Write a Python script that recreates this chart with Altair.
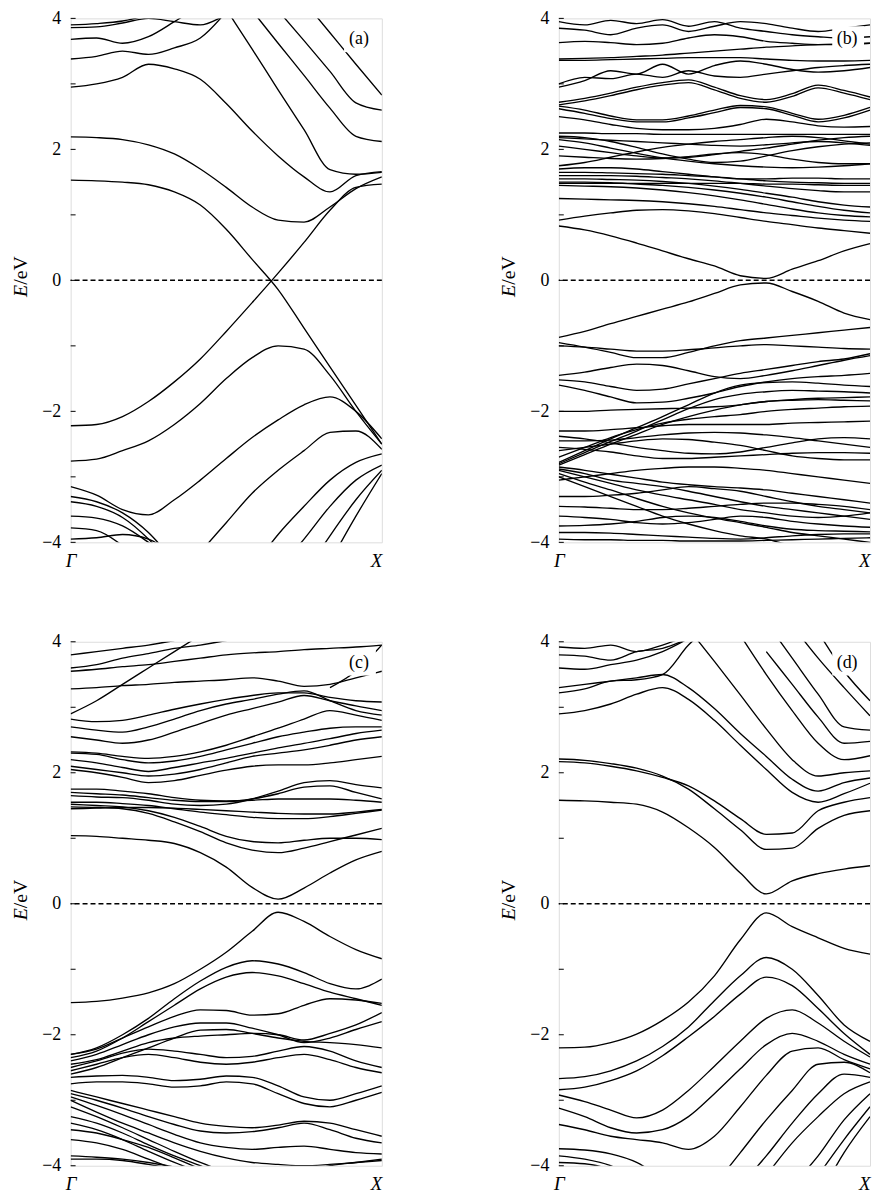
import altair as alt
import pandas as pd

# k positions along Γ–X (fraction of the path)
K = [0, 0.0833, 0.1667, 0.25, 0.3333, 0.4167, 0.5, 0.5833, 0.6667, 0.75, 0.8333, 0.9167, 1]
N = None

BANDS_A = [
    [1.53, 1.52, 1.50, 1.46, 1.35, 1.15, 0.78, 0.32, -0.14, -0.73, -1.32, -1.91, -2.50],
    [-2.22, -2.20, -2.08, -1.85, -1.55, -1.20, -0.78, -0.34, 0.11, 0.58, 1.07, 1.42, 1.47],
    [2.19, 2.18, 2.15, 2.07, 1.93, 1.70, 1.42, 1.12, 0.92, 0.89, 1.12, 1.40, 1.58],
    [2.95, 3.00, 3.10, 3.30, 3.23, 3.07, 2.70, 2.28, 1.90, 1.58, 1.35, 1.60, 1.66],
    [3.38, 3.42, 3.50, 3.45, 3.55, 3.70, 4.10],
    [3.68, 3.70, 3.62, 3.72, 3.95, 4.20],
    [3.86, 3.87, 3.93, 4.00, 3.95, 3.90, 4.05, 4.20],
    [3.90, 3.92, 3.96, 4.05],
    [N, N, N, N, N, 4.75, 4.14, 3.53, 2.91, 2.30, 1.69, 1.62, 1.65],
    [N, N, N, N, N, N, 4.62, 4.12, 3.62, 3.13, 2.63, 2.20, 2.12],
    [N, N, N, N, N, N, N, N, 4.12, 3.66, 3.19, 2.71, 2.60],
    [N, N, N, N, N, N, N, N, N, 4.26, 3.78, 3.30, 2.83],
    [-2.76, -2.73, -2.60, -2.45, -2.20, -1.88, -1.50, -1.18, -1.00, -1.05, -1.45, -2.00, -2.50],
    [-3.15, -3.28, -3.50, -3.58, -3.35, -3.05, -2.72, -2.40, -2.13, -1.90, -1.78, -2.00, -2.42],
    [N, N, N, N, -4.60, -4.15, -3.70, -3.25, -2.90, -2.60, -2.32, -2.30, -2.58],
    [N, N, N, N, N, N, N, -4.40, -3.88, -3.45, -3.05, -2.78, -2.65],
    [N, N, N, N, N, N, N, N, -4.40, -3.95, -3.45, -3.05, -2.82],
    [N, N, N, N, N, N, N, N, N, -4.50, -3.90, -3.35, -2.90],
    [N, N, N, N, N, N, N, N, N, N, -4.30, -3.60, -2.95],
    [-3.30, -3.38, -3.55, -3.85, -4.30],
    [-3.38, -3.45, -3.62, -3.95, -4.40],
    [-3.60, -3.63, -3.75, -4.00, -4.30],
    [-3.78, -3.82, -4.05, -4.40],
    [-3.95, -3.93, -3.88, -3.95, -4.20],
]

BANDS_B = [
    [0.83, 0.77, 0.68, 0.57, 0.45, 0.33, 0.22, 0.07, 0.03, 0.17, 0.30, 0.45, 0.56],
    [-0.87, -0.78, -0.66, -0.55, -0.44, -0.33, -0.20, -0.07, -0.04, -0.17, -0.32, -0.50, -0.60],
    [0.92, 0.98, 1.03, 1.07, 1.08, 1.06, 1.02, 0.96, 0.90, 0.85, 0.80, 0.76, 0.72],
    [-0.95, -1.02, -1.10, -1.18, -1.18, -1.10, -1.00, -0.92, -0.88, -0.84, -0.80, -0.76, -0.72],
    [-1.00, -1.02, -1.05, -1.08, -1.08, -1.06, -1.03, -1.00, -0.98, -1.00, -1.02, -1.04, -1.05],
    [-1.45, -1.40, -1.33, -1.28, -1.30, -1.38, -1.47, -1.50, -1.45, -1.38, -1.30, -1.22, -1.15],
    [-1.52, -1.55, -1.62, -1.68, -1.66, -1.58, -1.50, -1.42, -1.36, -1.30, -1.24, -1.20, -1.12],
    [-1.60, -1.68, -1.78, -1.87, -1.86, -1.80, -1.72, -1.62, -1.55, -1.50, -1.47, -1.45, -1.42],
    [-2.00, -2.00, -1.98, -1.97, -1.96, -1.95, -1.93, -1.90, -1.85, -1.82, -1.80, -1.79, -1.78],
    [-2.78, -2.60, -2.42, -2.25, -2.08, -1.90, -1.72, -1.60, -1.56, -1.55, -1.57, -1.60, -1.62],
    [-2.80, -2.63, -2.46, -2.30, -2.13, -1.96, -1.82, -1.74, -1.70, -1.68, -1.69, -1.70, -1.72],
    [-2.82, -2.66, -2.50, -2.35, -2.20, -2.08, -1.98, -1.90, -1.85, -1.83, -1.82, -1.83, -1.84],
    [-2.70, -2.55, -2.40, -2.28, -2.18, -2.12, -2.08, -2.05, -2.00, -1.97, -1.95, -1.93, -1.92],
    [-2.30, -2.30, -2.28, -2.25, -2.22, -2.20, -2.20, -2.20, -2.20, -2.18, -2.17, -2.16, -2.15],
    [-2.38, -2.42, -2.48, -2.55, -2.60, -2.64, -2.65, -2.62, -2.55, -2.48, -2.42, -2.40, -2.42],
    [-2.45, -2.45, -2.44, -2.40, -2.36, -2.33, -2.32, -2.33, -2.36, -2.40, -2.45, -2.50, -2.55],
    [-2.55, -2.58, -2.62, -2.68, -2.72, -2.72, -2.70, -2.68, -2.66, -2.64, -2.63, -2.63, -2.64],
    [-2.60, -2.55, -2.50, -2.45, -2.42, -2.43, -2.47, -2.52, -2.60, -2.68, -2.72, -2.74, -2.74],
    [-2.85, -2.90, -2.96, -3.02, -3.08, -3.12, -3.15, -3.17, -3.20, -3.25, -3.30, -3.35, -3.40],
    [-2.90, -3.00, -3.10, -3.20, -3.28, -3.35, -3.42, -3.50, -3.55, -3.60, -3.62, -3.60, -3.55],
    [-2.95, -3.08, -3.20, -3.33, -3.45, -3.55, -3.63, -3.70, -3.77, -3.85, -3.90, -3.95, -4.00],
    [-3.00, -3.15, -3.30, -3.45, -3.60, -3.72, -3.82, -3.90, -3.95, -4.05, -4.10, -4.15, -4.20],
    [-2.88, -2.95, -3.05, -3.10, -3.15, -3.22, -3.30, -3.38, -3.45, -3.50, -3.55, -3.60, -3.65],
    [-3.05, -3.00, -2.95, -2.90, -2.87, -2.85, -2.85, -2.87, -2.90, -2.95, -3.00, -3.05, -3.10],
    [-3.30, -3.30, -3.28, -3.25, -3.20, -3.15, -3.18, -3.22, -3.30, -3.38, -3.45, -3.50, -3.55],
    [-3.45, -3.46, -3.48, -3.50, -3.50, -3.48, -3.45, -3.42, -3.40, -3.40, -3.42, -3.45, -3.50],
    [-3.60, -3.62, -3.65, -3.70, -3.72, -3.70, -3.65, -3.60, -3.62, -3.68, -3.72, -3.75, -3.77],
    [-3.75, -3.74, -3.72, -3.68, -3.62, -3.60, -3.62, -3.68, -3.75, -3.80, -3.82, -3.83, -3.84],
    [-3.85, -3.85, -3.86, -3.88, -3.90, -3.92, -3.94, -3.95, -3.93, -3.90, -3.88, -3.87, -3.87],
    [-3.95, -3.96, -3.96, -3.97, -3.97, -3.98, -3.98, -3.98, -3.97, -3.96, -3.95, -3.94, -3.93],
    [1.25, 1.24, 1.23, 1.22, 1.20, 1.17, 1.13, 1.08, 1.03, 0.99, 0.95, 0.92, 0.90],
    [1.45, 1.44, 1.43, 1.41, 1.38, 1.34, 1.29, 1.23, 1.16, 1.09, 1.03, 0.99, 0.97],
    [1.50, 1.50, 1.49, 1.47, 1.45, 1.42, 1.38, 1.33, 1.27, 1.20, 1.13, 1.07, 1.03],
    [1.55, 1.55, 1.54, 1.53, 1.51, 1.48, 1.44, 1.39, 1.33, 1.27, 1.20, 1.15, 1.12],
    [1.60, 1.60, 1.60, 1.59, 1.57, 1.55, 1.52, 1.48, 1.44, 1.40, 1.37, 1.35, 1.35],
    [1.65, 1.65, 1.64, 1.63, 1.62, 1.60, 1.58, 1.55, 1.52, 1.50, 1.49, 1.48, 1.48],
    [1.70, 1.72, 1.72, 1.70, 1.66, 1.62, 1.58, 1.55, 1.55, 1.56, 1.56, 1.55, 1.55],
    [1.48, 1.48, 1.48, 1.48, 1.48, 1.48, 1.48, 1.48, 1.47, 1.47, 1.46, 1.45, 1.45],
    [2.20, 2.18, 2.12, 2.03, 1.93, 1.85, 1.80, 1.82, 1.90, 1.98, 2.04, 2.08, 2.10],
    [2.15, 2.10, 2.02, 1.94, 1.87, 1.82, 1.78, 1.75, 1.73, 1.72, 1.73, 1.75, 1.78],
    [2.05, 2.00, 1.95, 1.90, 1.87, 1.88, 1.92, 1.97, 2.02, 2.08, 2.14, 2.18, 2.20],
    [1.90, 1.88, 1.86, 1.85, 1.86, 1.89, 1.93, 1.95, 1.92, 1.85, 1.80, 1.78, 1.78],
    [2.25, 2.25, 2.24, 2.24, 2.23, 2.23, 2.23, 2.23, 2.23, 2.23, 2.23, 2.23, 2.23],
    [2.18, 2.16, 2.14, 2.12, 2.10, 2.08, 2.06, 2.05, 2.07, 2.10, 2.12, 2.10, 2.06],
    [1.75, 1.80, 1.88, 1.96, 2.03, 2.08, 2.12, 2.15, 2.18, 2.20, 2.18, 2.13, 2.08],
    [2.62, 2.55, 2.47, 2.42, 2.42, 2.48, 2.56, 2.64, 2.62, 2.52, 2.42, 2.48, 2.60],
    [2.66, 2.60, 2.51, 2.45, 2.45, 2.51, 2.60, 2.67, 2.65, 2.55, 2.46, 2.52, 2.64],
    [2.72, 2.78, 2.86, 2.95, 3.02, 3.06, 2.95, 2.82, 2.76, 2.85, 2.98, 2.90, 2.80],
    [2.68, 2.74, 2.82, 2.91, 2.98, 3.02, 2.91, 2.78, 2.72, 2.81, 2.94, 2.86, 2.76],
    [2.50, 2.45, 2.38, 2.32, 2.30, 2.30, 2.32, 2.38, 2.46, 2.42, 2.36, 2.34, 2.35],
    [3.38, 3.39, 3.40, 3.42, 3.44, 3.47, 3.50, 3.53, 3.56, 3.58, 3.60, 3.61, 3.62],
    [3.36, 3.36, 3.37, 3.38, 3.39, 3.40, 3.40, 3.40, 3.38, 3.36, 3.35, 3.35, 3.36],
    [3.63, 3.65, 3.63, 3.60, 3.62, 3.70, 3.75, 3.72, 3.65, 3.62, 3.60, 3.60, 3.62],
    [3.85, 3.82, 3.75, 3.85, 3.90, 3.80, 3.88, 3.95, 3.92, 3.85, 3.80, 3.85, 3.90],
    [2.95, 3.05, 3.20, 3.15, 3.30, 3.15, 3.28, 3.35, 3.30, 3.22, 3.18, 3.20, 3.25],
    [3.00, 3.10, 3.08, 3.15, 3.10, 3.20, 3.12, 3.10, 3.15, 3.20, 3.25, 3.28, 3.30],
    [3.95, 3.90, 3.97, 3.92, 3.98, 3.88, 3.95, 3.85, 3.80, 3.75, 3.72, 3.70, 3.72],
]

BANDS_C = [
    [1.04, 1.03, 1.00, 0.97, 0.92, 0.78, 0.56, 0.25, 0.07, 0.24, 0.47, 0.67, 0.80],
    [-1.51, -1.49, -1.44, -1.36, -1.22, -1.00, -0.74, -0.42, -0.13, -0.27, -0.50, -0.70, -0.84],
    [-2.30, -2.20, -2.00, -1.75, -1.45, -1.18, -0.97, -0.87, -0.92, -1.05, -1.22, -1.30, -1.15],
    [-2.35, -2.25, -2.05, -1.80, -1.55, -1.30, -1.12, -1.05, -1.10, -1.22, -1.35, -1.45, -1.55],
    [-2.30, -2.22, -2.05, -1.88, -1.72, -1.62, -1.63, -1.70, -1.68, -1.55, -1.45, -1.47, -1.52],
    [-2.40, -2.30, -2.15, -2.00, -1.88, -1.82, -1.82, -1.90, -2.00, -2.12, -2.05, -1.92, -1.80],
    [-2.45, -2.38, -2.25, -2.12, -2.05, -2.02, -2.00, -1.98, -2.00, -2.08, -1.98, -1.85, -1.66],
    [-2.50, -2.40, -2.28, -2.22, -2.25, -2.30, -2.35, -2.33, -2.25, -2.18, -2.25, -2.40, -2.50],
    [-2.55, -2.45, -2.35, -2.30, -2.35, -2.42, -2.45, -2.42, -2.35, -2.30, -2.38, -2.50, -2.58],
    [-2.65, -2.63, -2.62, -2.65, -2.70, -2.68, -2.63, -2.65, -2.78, -2.95, -3.00, -2.90, -2.78],
    [-2.75, -2.72, -2.72, -2.75, -2.80, -2.78, -2.72, -2.75, -2.90, -3.05, -3.10, -3.00, -2.88],
    [-2.85, -2.95, -3.05, -3.15, -3.25, -3.35, -3.40, -3.42, -3.38, -3.32, -3.35, -3.45, -3.55],
    [-2.90, -3.00, -3.12, -3.25, -3.37, -3.47, -3.50, -3.48, -3.42, -3.35, -3.45, -3.58, -3.65],
    [-2.95, -3.08, -3.22, -3.37, -3.52, -3.65, -3.72, -3.75, -3.72, -3.70, -3.75, -3.80, -3.82],
    [-3.00, -3.18, -3.35, -3.50, -3.65, -3.78, -3.88, -3.95, -3.98, -4.00, -3.98, -3.95, -3.92],
    [-3.10, -3.25, -3.42, -3.60, -3.78, -3.95, -4.10, -4.25],
    [-3.25, -3.35, -3.50, -3.68, -3.85, -4.00, -4.15],
    [-3.35, -3.45, -3.60, -3.78, -3.95, -4.10],
    [-3.45, -3.50, -3.60, -3.72, -3.88, -4.05],
    [-3.60, -3.65, -3.75, -3.90, -4.05],
    [-3.85, -3.87, -3.90, -3.95, -4.02],
    [-3.90, -3.90, -3.92, -3.98, -4.05],
    [N, N, N, N, N, N, N, N, N, -4.10, -4.00, -3.95, -3.90],
    [-2.60, -2.50, -2.35, -2.20, -2.05, -1.93, -1.92, -1.98, -2.05, -2.10, -2.12, -2.15, -2.20],
    [1.48, 1.47, 1.45, 1.38, 1.25, 1.10, 0.93, 0.82, 0.78, 0.85, 0.95, 1.05, 1.15],
    [1.52, 1.50, 1.48, 1.42, 1.32, 1.18, 1.03, 0.95, 0.93, 0.97, 1.00, 1.00, 0.98],
    [1.55, 1.55, 1.53, 1.50, 1.45, 1.40, 1.36, 1.32, 1.30, 1.30, 1.33, 1.38, 1.43],
    [1.45, 1.46, 1.47, 1.47, 1.46, 1.44, 1.42, 1.40, 1.38, 1.37, 1.37, 1.40, 1.44],
    [1.65, 1.63, 1.62, 1.58, 1.52, 1.50, 1.52, 1.60, 1.72, 1.85, 1.88, 1.82, 1.77],
    [1.70, 1.68, 1.66, 1.62, 1.58, 1.56, 1.56, 1.60, 1.68, 1.78, 1.80, 1.70, 1.60],
    [1.75, 1.75, 1.72, 1.68, 1.62, 1.58, 1.57, 1.58, 1.60, 1.60, 1.60, 1.58, 1.55],
    [2.05, 2.00, 1.93, 1.85, 1.88, 1.96, 2.04, 2.10, 2.12, 2.12, 2.15, 2.20, 2.25],
    [2.10, 2.05, 2.00, 1.95, 1.98, 2.05, 2.15, 2.25, 2.30, 2.35, 2.42, 2.50, 2.55],
    [2.20, 2.15, 2.08, 2.02, 2.08, 2.15, 2.22, 2.30, 2.38, 2.45, 2.52, 2.60, 2.65],
    [2.30, 2.28, 2.20, 2.15, 2.18, 2.25, 2.35, 2.45, 2.55, 2.62, 2.68, 2.70, 2.70],
    [2.32, 2.30, 2.25, 2.22, 2.25, 2.32, 2.42, 2.55, 2.68, 2.82, 2.95, 2.88, 2.80],
    [2.55, 2.50, 2.45, 2.50, 2.62, 2.75, 2.88, 2.98, 3.08, 3.18, 3.10, 3.02, 2.95],
    [2.70, 2.65, 2.62, 2.70, 2.82, 2.95, 3.05, 3.12, 3.20, 3.25, 3.10, 2.95, 2.88],
    [2.82, 2.78, 2.80, 2.88, 2.97, 3.05, 3.12, 3.18, 3.22, 3.22, 3.15, 3.10, 3.08],
    [3.28, 3.30, 3.33, 3.35, 3.38, 3.40, 3.42, 3.45, 3.40, 3.32, 3.35, 3.45, 3.55],
    [2.90, 3.10, 3.35, 3.60, 3.85, 4.10],
    [3.55, 3.58, 3.62, 3.65, 3.70, 3.75, 3.80, 3.83, 3.85, 3.88, 3.90, 3.92, 3.95],
    [3.60, 3.65, 3.75, 3.82, 3.90, 3.95, 4.02, 4.10],
    [3.80, 3.85, 3.90, 3.95, 4.02],
    [N, N, N, N, N, N, N, N, N, N, 3.30, 3.55, 3.95],
]

BANDS_D = [
    [1.58, 1.57, 1.55, 1.52, 1.40, 1.16, 0.86, 0.47, 0.15, 0.35, 0.46, 0.53, 0.58],
    [-2.20, -2.19, -2.12, -1.99, -1.78, -1.50, -1.10, -0.55, -0.14, -0.35, -0.52, -0.68, -0.77],
    [2.21, 2.19, 2.14, 2.07, 1.95, 1.75, 1.45, 1.13, 0.83, 0.85, 1.15, 1.35, 1.42],
    [2.17, 2.15, 2.10, 2.03, 1.93, 1.80, 1.57, 1.30, 1.06, 1.08, 1.42, 1.55, 1.62],
    [2.90, 2.95, 3.05, 3.20, 3.30, 3.12, 2.80, 2.42, 2.05, 1.70, 1.55, 1.68, 1.84],
    [3.30, 3.35, 3.40, 3.45, 3.50, 3.30, 2.98, 2.60, 2.25, 1.90, 1.72, 1.85, 1.92],
    [3.22, 3.28, 3.40, 3.42, 3.50, 3.95, 4.30],
    [N, N, N, N, N, 4.20, 3.70, 3.19, 2.67, 2.20, 1.95, 2.00, 2.03],
    [N, N, N, N, N, N, N, 4.10, 3.50, 2.95, 2.45, 2.20, 2.26],
    [N, N, N, N, N, N, N, N, 3.85, 3.35, 2.85, 2.45, 2.48],
    [N, N, N, N, N, N, N, N, 4.30, 3.75, 3.20, 2.70, 2.65],
    [N, N, N, N, N, N, N, N, N, 4.25, 3.75, 3.30, 2.87],
    [N, N, N, N, N, N, N, N, N, N, 4.15, 3.55, 3.10],
    [3.92, 3.90, 3.95, 3.85, 3.95, 4.10],
    [3.80, 3.78, 3.72, 3.85, 3.90, 4.05],
    [3.60, 3.58, 3.65, 3.72, 3.85, 4.05],
    [-2.67, -2.64, -2.55, -2.40, -2.18, -1.88, -1.48, -1.10, -0.82, -1.00, -1.40, -1.85, -2.10],
    [-2.84, -2.80, -2.70, -2.55, -2.32, -2.03, -1.72, -1.38, -1.12, -1.25, -1.60, -1.98, -2.30],
    [-2.92, -3.02, -3.15, -3.27, -3.15, -2.85, -2.48, -2.10, -1.75, -1.62, -1.82, -2.10, -2.34],
    [-3.12, -3.25, -3.42, -3.50, -3.45, -3.25, -2.90, -2.52, -2.15, -1.98, -2.10, -2.30, -2.45],
    [-3.37, -3.45, -3.55, -3.60, -3.65, -3.75, -3.55, -3.10, -2.62, -2.25, -2.20, -2.38, -2.52],
    [N, N, N, N, N, N, -4.30, -3.80, -3.30, -2.85, -2.45, -2.42, -2.58],
    [N, N, N, N, N, N, N, -4.30, -3.85, -3.35, -2.90, -2.60, -2.65],
    [N, N, N, N, N, N, N, N, -4.15, -3.65, -3.25, -2.90, -2.72],
    [N, N, N, N, N, N, N, N, N, -4.30, -3.85, -3.30, -2.90],
    [N, N, N, N, N, N, N, N, N, N, -4.15, -3.60, -3.10],
    [N, N, N, N, N, N, N, N, N, N, -4.50, -3.80, -3.25],
    [-3.74, -3.76, -3.82, -3.95, -4.20],
    [-3.85, -3.90, -4.00, -4.20],
    [-3.95, -3.97, -4.05],
]

PANEL_TAGS = ["(a)", "(b)", "(c)", "(d)"]
Y_LABELS = [-4, -2, 0, 2, 4]
Y_TICKS = [-4, -3, -2, -1, 0, 1, 2, 3, 4]
X_ENDS = [0, 1]

W, H = 313, 527
SERIF = "Liberation Serif"


def band_frame(bands):
    rows = []
    for b, vals in enumerate(bands):
        for k, e in zip(K, vals):
            if e is not None:
                rows.append({"k": k, "E": e, "band": b})
    return pd.DataFrame(rows)


xs = alt.Scale(domain=[0, 1], nice=False, zero=False)
ys = alt.Scale(domain=[-4, 4], nice=False, zero=False)
xaxis = alt.Axis(
    values=X_ENDS, labelExpr="datum.value == 0 ? 'Γ' : 'X'", title=None,
    ticks=False, domain=False, grid=False, labelFont=SERIF, labelFontStyle="italic",
    labelFontSize=19, labelColor="black", labelPadding=9, labelFlush=False,
    labelOverlap=False,
    labelAlign={"condition": {"test": "datum.value == 0", "value": "center"}, "value": "right"},
)
yaxis = alt.Axis(
    values=Y_LABELS, title=None, ticks=False, domain=False, grid=False,
    labelFont=SERIF, labelFontSize=18, labelColor="black", labelPadding=10,
)


def panel(bands, tag):
    X = alt.X("k:Q", scale=xs, axis=xaxis)
    Y = alt.Y("E:Q", scale=ys, axis=yaxis)
    lines = alt.Chart(band_frame(bands)).mark_line(
        color="black", strokeWidth=1.35, clip=True, interpolate="monotone"
    ).encode(x=X, y=Y, detail="band:N")
    zero = alt.Chart(pd.DataFrame({"E": [0]})).mark_rule(
        color="black", strokeWidth=1.5, strokeDash=[5, 3]
    ).encode(y=Y)
    ticks = alt.Chart(pd.DataFrame({"E": Y_TICKS})).mark_rule(
        color="black", strokeWidth=1
    ).encode(y=Y, x=alt.value(0), x2=alt.value(5))
    one = pd.DataFrame({"t": [tag]})
    box = alt.Chart(one).mark_rect(color="white").encode(
        x=alt.value(275), x2=alt.value(307), y=alt.value(8), y2=alt.value(34)
    )
    lab = alt.Chart(one).mark_text(font=SERIF, fontSize=18, color="black").encode(
        x=alt.value(290), y=alt.value(21), text="t:N"
    )
    tE = alt.Chart(one).mark_text(
        text="E", font=SERIF, fontSize=20, fontStyle="italic", angle=270,
        align="right", baseline="middle", color="black"
    ).encode(x=alt.value(-50), y=alt.value(268))
    teV = alt.Chart(one).mark_text(
        text="/eV", font=SERIF, fontSize=20, angle=270,
        align="left", baseline="middle", color="black"
    ).encode(x=alt.value(-50), y=alt.value(268))
    return alt.layer(lines, zero, ticks, box, lab, tE, teV).properties(width=W, height=H)


pa = panel(BANDS_A, PANEL_TAGS[0])
pb = panel(BANDS_B, PANEL_TAGS[1])
pc = panel(BANDS_C, PANEL_TAGS[2])
pd_ = panel(BANDS_D, PANEL_TAGS[3])

chart = alt.concat(
    pa, pb, pc, pd_, columns=2, bounds="flush",
    spacing={"row": 100, "column": 178},
).properties(padding={"top": -3, "left": 2, "right": 0, "bottom": 0}).configure_view(
    stroke="black", strokeWidth=1
).configure(background="white")

chart.save("out.html", embed_options={"renderer": "svg", "actions": False})
